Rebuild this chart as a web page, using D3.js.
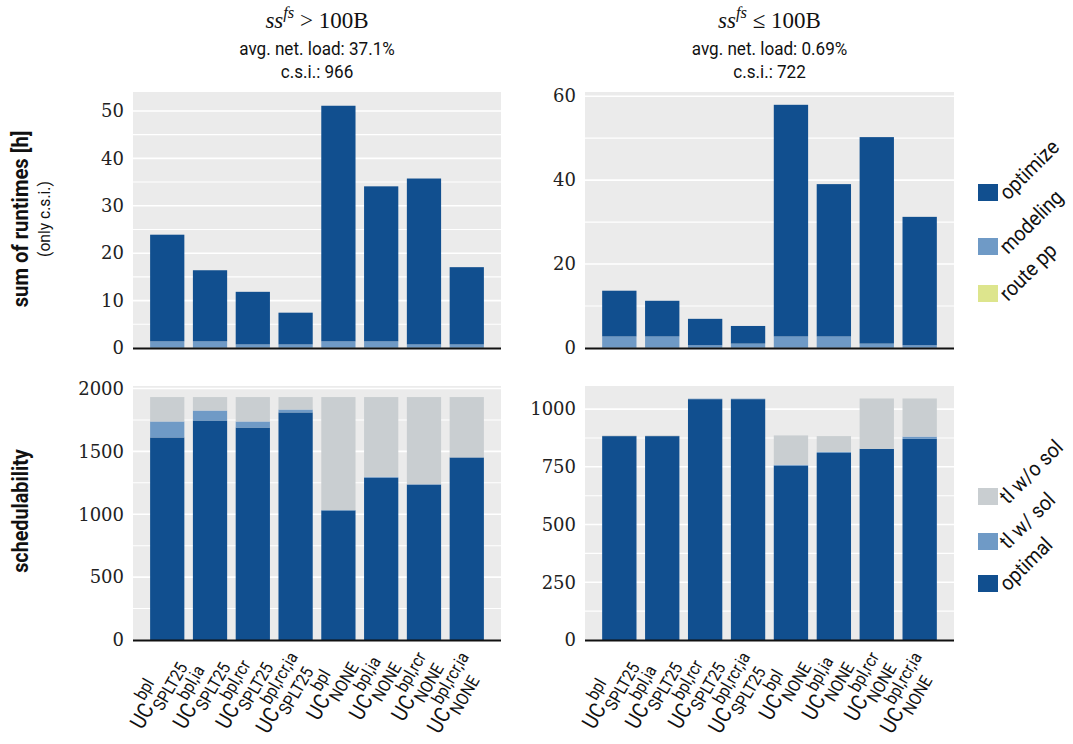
<!DOCTYPE html>
<html><head><meta charset="utf-8">
<script src="https://cdn.jsdelivr.net/npm/d3@7"></script>
<style>body{margin:0;background:#fff}</style>
</head><body>
<svg id="chart" width="1073" height="744"></svg>
<script>
// ---------- data ----------
const categories = ["c1","c2","c3","c4","c5","c6","c7","c8"];
const labelSup = ["bpl","bpl,ia","bpl,rcr","bpl,rcr,ia","bpl","bpl,ia","bpl,rcr","bpl,rcr,ia"];
const labelSub = ["SPLT25","SPLT25","SPLT25","SPLT25","NONE","NONE","NONE","NONE"];

// runtimes [h], panel ss^fs > 100B
const rtRoutePpA  = [0.05,0.05,0.05,0.05,0.05,0.05,0.05,0.05];
const rtModelingA = [1.35,1.35,0.7,0.7,1.35,1.35,0.7,0.7];
const rtOptimizeA = [22.5,15.0,11.1,6.7,49.7,32.7,35.0,16.3];
// runtimes [h], panel ss^fs <= 100B
const rtRoutePpB  = [0.05,0.05,0.05,0.05,0.05,0.05,0.05,0.05];
const rtModelingB = [2.7,2.7,0.6,1.0,2.7,2.7,1.0,0.6];
const rtOptimizeB = [10.9,8.5,6.3,4.2,55.2,36.3,49.2,30.6];

// schedulability, panel A
const schOptimalA = [1611,1746,1690,1810,1030,1290,1236,1452];
const schTlSolA   = [127,79,48,23,4,8,3,0];
const schTlNoSolA = [194,107,194,99,898,634,693,480];
// schedulability, panel B
const schOptimalB = [883,883,1043,1043,754,810,828,871];
const schTlSolB   = [0,0,2,2,5,5,0,10];
const schTlNoSolB = [3,3,1,1,127,68,218,165];

const ticksRtA = [0,10,20,30,40,50];
const ticksRtB = [0,20,40,60];
const ticksSchA = [0,500,1000,1500,2000];
const ticksSchB = [0,250,500,750,1000];

const titleRel = [">", "\u2264"];
const titleLoad = ["avg. net. load: 37.1%", "avg. net. load: 0.69%"];
const titleCsi = ["c.s.i.: 966", "c.s.i.: 722"];

const rtKeys = ["optimize","modeling","route pp"];
const schKeys = ["tl w/o sol","tl w/ sol","optimal"];

// ---------- style ----------
const C_DARK = "#114f8f", C_LIGHT = "#6f9ac6", C_YEL = "#dde58d", C_GRAY = "#c9ced1";
const BG = "#ebebeb";
const svg = d3.select("#chart");

const cols = [{x0:133, x1:501}, {x0:585, x1:954}];
const rows = [{y0:92, y1:348}, {y0:386, y1:640}];

function panel(col, row, stackKeys, series, colors, ymax, ticks, minorStep) {
  const x = d3.scaleBand().domain(categories).range([col.x0, col.x1]).paddingInner(0.2).paddingOuter(0.4);
  const y = d3.scaleLinear().domain([0, ymax]).range([row.y1, row.y0]);
  const g = svg.append("g");
  g.append("rect").attr("x", col.x0).attr("y", row.y0).attr("width", col.x1-col.x0).attr("height", row.y1-row.y0).attr("fill", BG);
  const minors = d3.range(minorStep, ymax, minorStep);
  g.selectAll("line.grid").data(minors).join("line")
    .attr("x1", col.x0).attr("x2", col.x1).attr("y1", d=>y(d)).attr("y2", d=>y(d))
    .attr("stroke", "#fff").attr("stroke-width", d => ticks.includes(d) ? 1.6 : 1.1);
  const table = categories.map((c,i) => { const o = {cat:c}; stackKeys.forEach((k,j)=>o[k]=series[j][i]); return o; });
  const stacked = d3.stack().keys(stackKeys)(table);
  stacked.forEach((s, j) => {
    g.append("g").selectAll("rect").data(s).join("rect")
      .attr("x", d => x(d.data.cat)).attr("width", x.bandwidth())
      .attr("y", d => y(d[1])).attr("height", d => y(d[0]) - y(d[1]))
      .attr("fill", colors[j]);
  });
  const ax = g.append("g").attr("transform", `translate(${col.x0},0)`)
    .call(d3.axisLeft(y).tickValues(ticks).tickFormat(d3.format("d")).tickSize(0).tickPadding(9));
  ax.select(".domain").remove();
  ax.selectAll("text").attr("font-family", "DejaVu Serif").attr("font-size", 18).attr("fill", "#222");
  g.append("line").attr("x1", col.x0).attr("x2", col.x1).attr("y1", y(0)+0.5).attr("y2", y(0)+0.5)
    .attr("stroke", "#111").attr("stroke-width", 2);
  return {x, y};
}

const rtColors = [C_YEL, C_LIGHT, C_DARK];
const schColors = [C_DARK, C_LIGHT, C_GRAY];
panel(cols[0], rows[0], ["route pp","modeling","optimize"], [rtRoutePpA, rtModelingA, rtOptimizeA], rtColors, 54, ticksRtA, 5);
panel(cols[1], rows[0], ["route pp","modeling","optimize"], [rtRoutePpB, rtModelingB, rtOptimizeB], rtColors, 61, ticksRtB, 10);
const pA = panel(cols[0], rows[1], ["optimal","tl w/ sol","tl w/o sol"], [schOptimalA, schTlSolA, schTlNoSolA], schColors, 2020, ticksSchA, 250);
const pB = panel(cols[1], rows[1], ["optimal","tl w/ sol","tl w/o sol"], [schOptimalB, schTlSolB, schTlNoSolB], schColors, 1100, ticksSchB, 125);

// ---------- titles ----------
cols.forEach((col, i) => {
  const cx = (col.x0 + col.x1) / 2;
  const t = svg.append("text").attr("x", cx).attr("y", 28).attr("text-anchor", "middle")
    .attr("font-family", "Liberation Serif").attr("font-size", 23).attr("fill", "#111");
  t.append("tspan").attr("font-style", "italic").text("ss");
  t.append("tspan").attr("font-style", "italic").attr("font-size", 16.5).attr("dy", -10).text("fs");
  t.append("tspan").attr("dy", 10).text(" " + titleRel[i] + " 100B");
  svg.append("text").attr("transform", `translate(${cx},55) scale(0.9,1)`).attr("text-anchor", "middle")
    .attr("font-family", "Roboto").attr("font-size", 19).attr("fill", "#111").text(titleLoad[i]);
  svg.append("text").attr("transform", `translate(${cx},78) scale(0.9,1)`).attr("text-anchor", "middle")
    .attr("font-family", "Roboto").attr("font-size", 19).attr("fill", "#111").text(titleCsi[i]);
});

// ---------- y labels ----------
svg.append("text").attr("transform", "translate(28,219) rotate(-90) scale(0.92,1)").attr("text-anchor", "middle")
  .attr("font-family", "Roboto").attr("font-weight", "bold").attr("font-size", 22).attr("fill", "#111").text("sum of runtimes [h]");
svg.append("text").attr("transform", "translate(50,219) rotate(-90) scale(0.92,1)").attr("text-anchor", "middle")
  .attr("font-family", "Roboto").attr("font-size", 17).attr("fill", "#111").text("(only c.s.i.)");
svg.append("text").attr("transform", "translate(28,511) rotate(-90) scale(0.92,1)").attr("text-anchor", "middle")
  .attr("font-family", "Roboto").attr("font-weight", "bold").attr("font-size", 21.5).attr("fill", "#111").text("schedulability");

// ---------- x labels ----------
[pA, pB].forEach(p => {
  categories.forEach((c, i) => {
    const cx = p.x(c) + p.x.bandwidth() / 2;
    const outer = svg.append("g").attr("transform", `translate(${cx + 14},663) rotate(-60) scale(0.88,1)`);
    const g = outer.append("g");
    const uc = g.append("text").attr("font-family", "Roboto").attr("font-size", 22).attr("fill", "#111").text("UC");
    const wuc = uc.node().getComputedTextLength();
    const sup = g.append("text").attr("font-family", "Roboto").attr("font-size", 17.5).attr("fill", "#111")
      .attr("x", wuc + 1.5).attr("y", -13).text(labelSup[i]);
    const sub = g.append("text").attr("font-family", "Roboto").attr("font-size", 17.5).attr("fill", "#111")
      .attr("x", wuc + 1.5).attr("y", 8).text(labelSub[i]);
    const W = wuc + 1.5 + Math.max(sup.node().getComputedTextLength(), sub.node().getComputedTextLength());
    g.attr("transform", `translate(${-W},0)`);
  });
});

// ---------- legends ----------
function legend(keys, colors, ys) {
  keys.forEach((k, i) => {
    svg.append("rect").attr("x", 978).attr("y", ys[i]).attr("width", 20).attr("height", 17).attr("fill", colors[i]);
    svg.append("text").attr("transform", `translate(1008,${ys[i] + 17}) rotate(-45) scale(0.92,1)`)
      .attr("font-family", "Roboto").attr("font-size", 21).attr("fill", "#111").text(k);
  });
}
legend(rtKeys, [C_DARK, C_LIGHT, C_YEL], [184, 238, 285]);
legend(schKeys, [C_GRAY, C_LIGHT, C_DARK], [488, 533, 575]);
</script>
</body></html>
